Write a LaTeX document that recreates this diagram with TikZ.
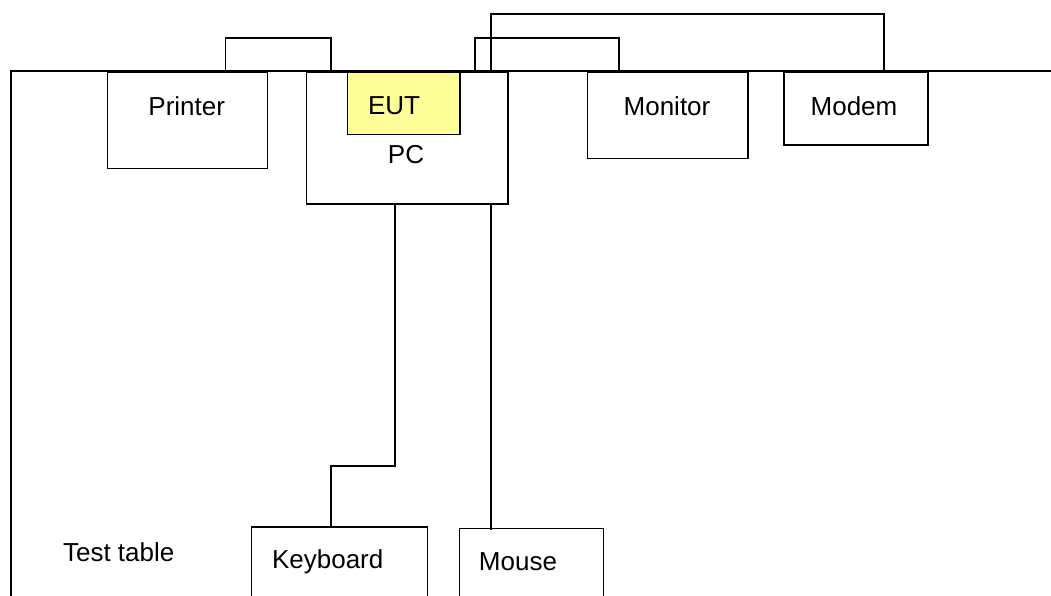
\documentclass[tikz,border=0pt]{standalone}
\usepackage{fontspec}
\setmainfont{Liberation Sans}
\definecolor{eutyellow}{RGB}{255,255,153}
\begin{document}
\begin{tikzpicture}[x=1pt,y=-1pt,
  box/.style={draw=black, line width=1.6pt, rectangle, inner sep=0pt, anchor=north west},
  lbl/.style={inner sep=0pt, font=\fontsize{26}{30}\selectfont},
  cable/.style={draw=black, line width=1.6pt}]
\useasboundingbox[fill=white] (0,0) rectangle (1051,595);
\clip (0,0) rectangle (1051,595);
% table
\draw[cable] (1060,71) coordinate (tr) -- (10.7,71) coordinate (tl) -- (10.7,610) coordinate (bl);
% boxes
\node[box, minimum width=160, minimum height=96.5] (prn) at (106.7,71) {};
\node[box, minimum width=201.3, minimum height=132.3] (pc) at (305.7,71) {};
\node[box, fill=eutyellow, minimum width=112.3, minimum height=62.7] (eut) at (346.7,71) {};
\node[box, minimum width=160.3, minimum height=86.7] (mon) at (586.7,71) {};
\node[box, minimum width=144.3, minimum height=73] (mod) at (783,71) {};
\node[box, minimum width=176, minimum height=100] (kbd) at (250.7,526) {};
\node[box, minimum width=144, minimum height=100] (mouse) at (458.7,527.7) {};
% labels
\node[lbl] (tprn) at (186.7,106) {Printer};
\node[lbl] (teut) at (394,106) {EUT};
\node[lbl] (tpc) at (406,155) {PC};
\node[lbl] (tmon) at (667,106) {Monitor};
\node[lbl] (tmod) at (854,106) {Modem};
\node[lbl] (tkbd) at (327.7,562) {Keyboard};
\node[lbl] (tmouse) at (518,562) {Mouse};
\node[lbl] (ttab) at (118.7,552) {Test table};
% cables
\draw[cable] (225.3,0 |- prn.north) -- (225.3,37.7) -- (331,37.7) -- (331,0 |- pc.north);
\draw[cable] (475,0 |- pc.north) -- (475,37.7) -- (619,37.7) -- (619,0 |- mon.north);
\draw[cable] (490.7,0 |- pc.north) -- (490.7,14) -- (884,14) -- (884,0 |- mod.north);
\draw[cable] (395,0 |- pc.south) -- (395,465.7) -- (330.7,465.7) -- (330.7,0 |- kbd.north);
\draw[cable] (490.7,0 |- pc.south) -- (490.7,530) coordinate (mend);
\end{tikzpicture}
\end{document}
